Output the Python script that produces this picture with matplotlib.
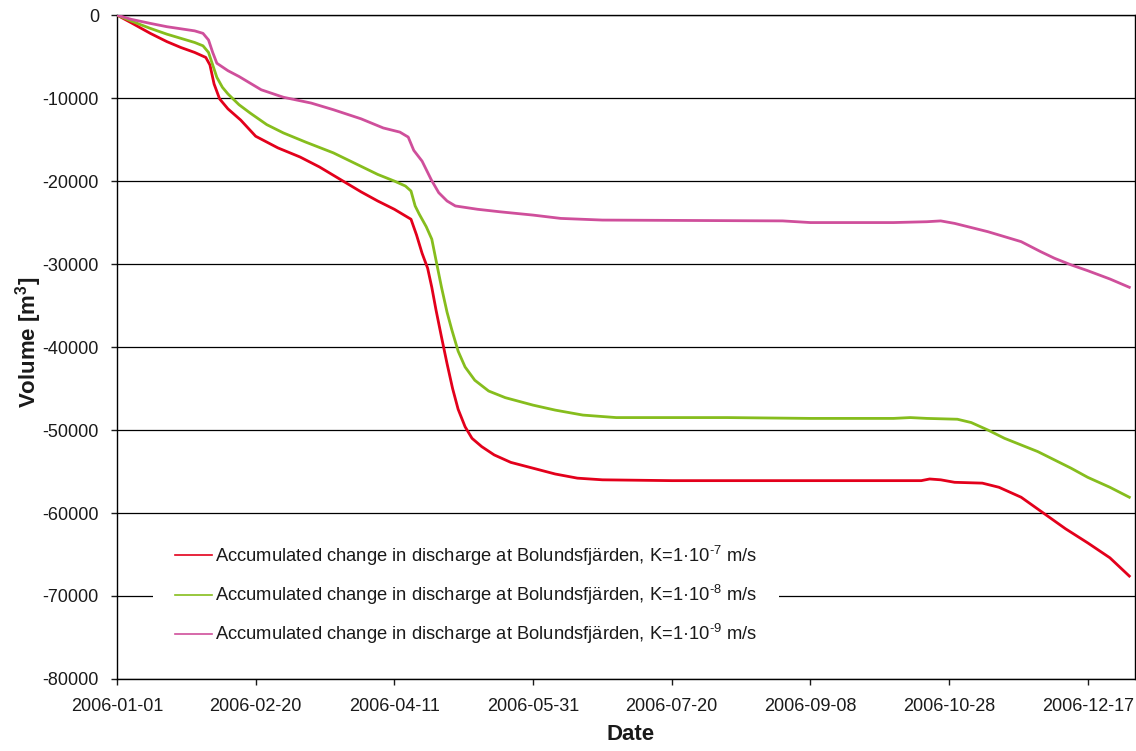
import matplotlib
matplotlib.use("Agg")
import matplotlib.pyplot as plt
import datetime as dt

plt.rcParams["font.family"] = ["Liberation Sans", "DejaVu Sans"]
plt.rcParams["mathtext.fontset"] = "custom"
plt.rcParams["mathtext.rm"] = "Liberation Sans"
plt.rcParams["mathtext.it"] = "Liberation Sans:italic"
plt.rcParams["mathtext.bf"] = "Liberation Sans:bold"
plt.rcParams["axes.unicode_minus"] = False

start = dt.date(2006, 1, 1)

# Accumulated change, K = 1e-7 m/s (day of year, m3)
red_days = [0, 5, 12, 18, 23, 28, 32, 33.5, 35, 37, 40, 44.6, 50, 58, 66, 73, 81, 88, 94, 100,
            106, 108, 110, 112, 113.5, 115, 117, 119, 121, 123, 125.5, 128, 131.5, 136, 142,
            150, 158, 166, 175, 200, 250, 290, 293, 297, 302, 312, 318, 326, 334, 342, 350,
            358, 365]
red_vals = [0, -900, -2200, -3200, -3900, -4500, -5100, -6000, -8300, -10100, -11300, -12650,
            -14600, -16000, -17100, -18300, -19900, -21300, -22400, -23400, -24600, -26500,
            -28700, -30500, -32800, -35500, -38800, -42000, -45000, -47500, -49600, -51000,
            -52000, -53000, -53900, -54600, -55300, -55800, -56000, -56100, -56100, -56100,
            -55900, -56000, -56300, -56400, -56900, -58100, -60000, -61900, -63600, -65400,
            -67600]

# Accumulated change, K = 1e-8 m/s
green_days = [0, 5, 12, 18, 23, 28, 31, 33, 34.5, 36, 38, 40, 44, 48, 54, 60, 68, 78, 86, 94,
              100, 104, 106, 107.5, 109, 111.5, 113.5, 115, 117, 119, 120.7, 123, 125.5, 129,
              134, 140, 150, 158, 168, 180, 220, 250, 280, 286, 292, 303, 308, 314, 320, 326,
              332, 338, 344, 350, 358, 365]
green_vals = [0, -700, -1600, -2300, -2800, -3300, -3700, -4500, -6000, -7500, -8700, -9500,
              -10800, -11800, -13200, -14200, -15300, -16600, -17900, -19200, -20000, -20600,
              -21200, -23000, -24000, -25500, -27000, -29500, -32800, -35800, -37900, -40500,
              -42400, -44000, -45300, -46100, -47000, -47600, -48200, -48500, -48500, -48600,
              -48600, -48500, -48600, -48700, -49100, -50000, -51000, -51800, -52600, -53600,
              -54600, -55700, -56900, -58100]

# Accumulated change, K = 1e-9 m/s
mag_days = [0, 5, 12, 18, 22, 28, 31, 33, 34.5, 36, 40, 44, 52, 60, 70, 78, 88, 96, 102, 105,
            107, 110, 113.4, 116, 119, 122, 130, 138, 150, 160, 175, 240, 250, 280, 292, 297,
            302, 308, 314, 320, 326, 333, 338, 344, 350, 358, 365]
mag_vals = [0, -500, -1000, -1400, -1600, -1900, -2200, -3000, -4500, -5800, -6700, -7400,
            -9000, -9900, -10600, -11400, -12500, -13600, -14100, -14700, -16300, -17600,
            -19900, -21400, -22400, -23000, -23400, -23700, -24100, -24500, -24700, -24800,
            -25000, -25000, -24900, -24800, -25100, -25600, -26100, -26700, -27300, -28500,
            -29300, -30100, -30800, -31800, -32800]

labels = [
    r"Accumulated change in discharge at Bolundsfjärden, K=1·10$^{\text{-7}}$ m/s",
    r"Accumulated change in discharge at Bolundsfjärden, K=1·10$^{\text{-8}}$ m/s",
    r"Accumulated change in discharge at Bolundsfjärden, K=1·10$^{\text{-9}}$ m/s",
]
colors = ["#e3001b", "#86bd1d", "#cf4f9b"]

tick_days = [0, 50, 100, 150, 200, 250, 300, 350]
tick_labels = [(start + dt.timedelta(days=d)).isoformat() for d in tick_days]
y_ticks = list(range(-80000, 1, 10000))

fig = plt.figure(figsize=(11.36, 7.51), dpi=100)
ax = fig.add_axes([0.103, 0.0959, 0.896, 0.884])

for y in y_ticks:
    ax.axhline(y, color="black", lw=0.9, zorder=1)

for d, v, c, lab in zip([red_days, green_days, mag_days],
                        [red_vals, green_vals, mag_vals], colors, labels):
    ax.plot(d, v, color=c, lw=2.0, label=lab, zorder=3)

ax.set_xlim(0, 367)
ax.set_ylim(-80000, 0)
ax.set_xticks(tick_days)
ax.set_xticklabels(tick_labels)
ax.set_yticks(y_ticks)
ax.set_yticklabels([str(v) for v in y_ticks])
ax.tick_params(axis="both", direction="out", length=4, width=1, labelsize=13,
               colors="#1a1a1a")
ax.tick_params(axis="x", pad=10)
ax.tick_params(axis="y", pad=9)
for s in ax.spines.values():
    s.set_color("black")
    s.set_linewidth(1.0)

ax.set_xlabel("Date", fontsize=16, fontweight="bold", va="baseline", color="#1a1a1a")
ax.set_ylabel("Volume [m$^\\mathbf{3}$]", fontsize=16, fontweight="bold", color="#1a1a1a")
ax.xaxis.set_label_coords(0.505, -0.0919)
ax.yaxis.set_label_coords(-0.0805, 0.5075)
ax.yaxis.label.set_va("baseline")
ax.yaxis.label.set_rotation_mode("anchor")

leg = ax.legend(loc="center left", bbox_to_anchor=(0.0354, 0.1265), borderaxespad=0,
                frameon=True, fontsize=13.2, handlelength=2.0, handletextpad=0.2,
                labelspacing=0.83, borderpad=1.2)
leg.get_frame().set_facecolor("white")
leg.get_frame().set_edgecolor("none")
leg.get_frame().set_alpha(1)
leg.get_frame().set_boxstyle("square", pad=0)
leg.set_zorder(5)
for line in leg.get_lines():
    line.set_linewidth(1.2)
for t in leg.get_texts():
    t.set_color("#1a1a1a")

fig.savefig("out.png", dpi=100, facecolor="white")
